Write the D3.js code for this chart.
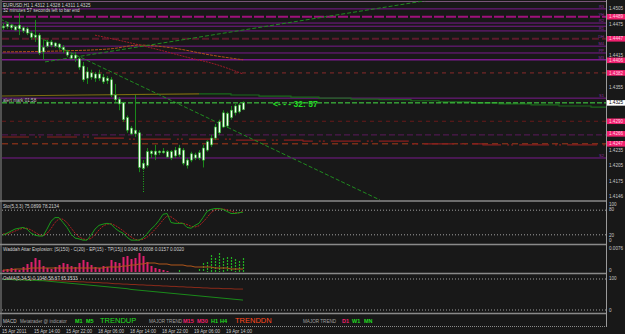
<!DOCTYPE html>
<html><head><meta charset="utf-8">
<script src="https://cdn.jsdelivr.net/npm/d3@7/dist/d3.min.js"></script>
<style>body{margin:0;background:#181818;overflow:hidden}svg{display:block;font-family:"Liberation Sans",Arial,sans-serif}</style>
</head><body><svg id="c" width="625" height="334"></svg>
<script>
// ---------- DATA ----------
const candleOpen=[1.4471,1.4470,1.4473,1.4470,1.4466,1.4468,1.4466,1.4458,1.4450,1.4454,1.4422,1.4433,1.4441,1.4439,1.4437,1.4431,1.4422,1.4416,1.4410,1.4409,1.4395,1.4372,1.4382,1.4372,1.4380,1.4374,1.4367,1.4369,1.4340,1.4332,1.4325,1.4297,1.4277,1.4266,1.4268,1.4200,1.4206,1.4233,1.4226,1.4233,1.4230,1.4232,1.4220,1.4235,1.4226,1.4235,1.4216,1.4216,1.4220,1.4230,1.4216,1.4235,1.4245,1.4258,1.4268,1.4279,1.4305,1.4297,1.4306,1.4321,1.4312];
const candleHigh=[1.4477,1.4479,1.4475,1.4473,1.4496,1.4471,1.4470,1.4462,1.4483,1.4458,1.4445,1.4445,1.4445,1.4441,1.4439,1.4435,1.4426,1.4420,1.4422,1.4412,1.4403,1.4393,1.4388,1.4384,1.4388,1.4380,1.4376,1.4374,1.4361,1.4336,1.4327,1.4301,1.4281,1.4340,1.4273,1.4216,1.4239,1.4235,1.4245,1.4235,1.4239,1.4235,1.4235,1.4241,1.4245,1.4239,1.4220,1.4232,1.4230,1.4235,1.4245,1.4254,1.4264,1.4285,1.4293,1.4311,1.4308,1.4319,1.4323,1.4325,1.4328];
const candleLow=[1.4464,1.4466,1.4464,1.4462,1.4454,1.4458,1.4454,1.4445,1.4441,1.4416,1.4407,1.4430,1.4431,1.4430,1.4426,1.4420,1.4412,1.4407,1.4403,1.4388,1.4365,1.4361,1.4369,1.4365,1.4367,1.4361,1.4361,1.4336,1.4327,1.4311,1.4289,1.4268,1.4264,1.4260,1.4193,1.4197,1.4202,1.4220,1.4216,1.4226,1.4228,1.4220,1.4216,1.4220,1.4222,1.4206,1.4200,1.4212,1.4216,1.4216,1.4202,1.4232,1.4241,1.4254,1.4264,1.4277,1.4277,1.4293,1.4301,1.4305,1.4311];
const candleClose=[1.4468,1.4475,1.4468,1.4464,1.4473,1.4462,1.4458,1.4450,1.4454,1.4420,1.4431,1.4441,1.4435,1.4433,1.4431,1.4426,1.4416,1.4410,1.4416,1.4393,1.4369,1.4384,1.4374,1.4380,1.4372,1.4365,1.4372,1.4340,1.4331,1.4323,1.4293,1.4273,1.4266,1.4273,1.4202,1.4210,1.4232,1.4228,1.4233,1.4230,1.4233,1.4222,1.4232,1.4224,1.4239,1.4210,1.4206,1.4228,1.4226,1.4220,1.4239,1.4251,1.4258,1.4279,1.4289,1.4306,1.4281,1.4311,1.4319,1.4308,1.4325];
const timeLabels=["15 Apr 2011","15 Apr 14:00","15 Apr 22:00","18 Apr 06:00","18 Apr 14:00","18 Apr 22:00","19 Apr 06:00","19 Apr 14:00"];
const timeLabelIndex=[0,8,16,24,32,40,48,56];
const priceTicks=[1.4505,1.4475,1.4445,1.4415,1.4385,1.4355,1.4325,1.4295,1.4265,1.4235,1.4205,1.4175,1.4146];
const pivotNames=["TOP","R3","YH","R2","M5","R1","DH","M4","PP","M3","WP","S1","DL","M2","WL","S2"];
const pivotValues=[1.4519,1.4504,1.4489,1.4477,1.4471,1.4462,1.4447,1.4433,1.4420,1.4407,1.4382,1.4334,1.4290,1.4264,1.4247,1.4220];
const tagValues=[1.4489,1.4447,1.4406,1.4382,1.4290,1.4266,1.4247];
const bidPrice=1.4325;
const trendStartIdx=[-0.75,10.5];
const trendStartPrice=[1.4485,1.4403];
const trendEndIdx=[94.25,106.75];
const trendEndPrice=[1.4140,1.4521];
const maOrangeIdx=[0,15,27,34,42,52,60];
const maOrange=[1.4422,1.4424,1.4428,1.4435,1.4430,1.4416,1.4407];
const maRedIdx=[23,32,39,47,52,60];
const maRed=[1.4454,1.4439,1.4426,1.4410,1.4401,1.4380];
const mtfGreenIdx=[49,57,64,72,79,87,94,102,109,117,124,132,139,147,151];
const mtfGreen=[1.4342,1.4340,1.4338,1.4336,1.4334,1.4332,1.4331,1.4329,1.4327,1.4325,1.4323,1.4321,1.4319,1.4317,1.4317];
const mtfOliveIdx=[-1,20,49];
const mtfOlive=[1.4338,1.4340,1.4342];
const mtfRedIdx=[-1,4,22,31,58,75,102,120,151];
const mtfRed=[1.4260,1.4260,1.4258,1.4256,1.4254,1.4252,1.4247,1.4245,1.4243];
const stochK=[19,24,29,34,36,38,34,24,19,17,17,34,53,62,62,50,38,22,12,10,7,7,19,34,43,46,48,46,36,29,24,14,7,7,7,12,22,34,43,55,70,72,50,48,48,48,38,36,43,48,62,77,82,84,84,82,77,72,72,74,75.1];
const stochD=[22,22,25,29,33,36,36,32,26,20,18,23,35,50,59,58,50,37,24,15,10,8,11,20,32,41,46,47,43,37,30,22,15,9,7,9,14,23,33,44,56,66,64,57,49,48,45,41,39,42,51,62,74,81,83,83,81,78,74,73,78.2];
const waePink=[0.0008,0.0012,0.0016,0.0012,0.0008,0.0020,0.0032,0.0040,0.0056,0.0048,0.0024,0.0016,0.0012,0.0020,0.0028,0.0036,0.0032,0.0024,0.0020,0.0036,0.0048,0.0040,0.0028,0.0020,0.0016,0.0024,0.0020,0.0048,0.0040,0.0036,0.0060,0.0064,0.0052,0.0056,0.0076,0.0064,0.0040,0.0024,0.0016,0.0012,0.0008,0.0004,0,0,0,0,0,0,0,0,0,0,0,0,0,0,0,0,0,0,0];
const waeGreen=[0,0,0,0,0,0,0,0,0,0,0,0,0,0,0,0,0,0,0,0,0,0,0,0,0,0,0,0,0,0,0,0,0,0,0,0,0,0,0,0,0,0,0,0,0.0008,0,0,0,0,0.0012,0.0036,0.0040,0.0068,0.0056,0.0076,0.0056,0.0060,0.0060,0.0052,0.0044,0.0056];
const waeExplosion=[0.0008,0.0008,0.0008,0.0012,0.0012,0.0012,0.0012,0.0016,0.0016,0.0016,0.0016,0.0016,0.0016,0.0016,0.0016,0.0016,0.0016,0.0016,0.0016,0.0016,0.0016,0.0016,0.0016,0.0016,0.0016,0.0016,0.0020,0.0020,0.0020,0.0020,0.0024,0.0024,0.0028,0.0028,0.0032,0.0032,0.0036,0.0036,0.0036,0.0032,0.0032,0.0032,0.0028,0.0028,0.0028,0.0028,0.0024,0.0024,0.0020,0.0020,0.0020,0.0020,0.0020,0.0016,0.0016,0.0016,0.0016,0.0012,0.0012,0.0012,0.0012];
const oscRed=[89,89,89,88,88,88,87,87,87,86,86,86,85,85,85,84,84,83,83,82,82,81,81,80,80,79,79,78,77,77,76,76,75,75,74,74,73,73,72,72,71,71,70,70,69,69,68,68,67,67,66,66,65,65,65,64,64,64,63,63,63];
const oscGreen=[88,88,88,87,87,87,86,86,86,85,85,84,83,82,81,80,79,78,77,76,75,74,73,72,71,70,69,68,67,66,65,64,62,61,60,59,58,57,56,55,54,53,52,51,50,49,48,47,46,45,44,43,42,41,40,39,38,37,36,35,34];

// ---------- LAYOUT ----------
const W=625,H=334,AX=606;
const svg=d3.select("#c");
svg.append("rect").attr("width",W).attr("height",H).attr("fill","#181818");
const x=d3.scaleLinear().domain([0,60]).range([3,243]);
const yM=d3.scaleLinear().domain([1.4140,1.4519]).range([200,1]);
const yS=d3.scaleLinear().domain([0,100]).range([243,202]);
const yW=d3.scaleLinear().domain([0,0.0104]).range([272,246]);
const yO=d3.scaleLinear().domain([0,100]).range([313,275]);
const FS=4.6;

const defs=svg.append("defs");
function clip(id,y0,y1){defs.append("clipPath").attr("id",id).append("rect").attr("x",2).attr("y",y0).attr("width",AX-2).attr("height",y1-y0);}
clip("cm",1,200);clip("cs",202,244);clip("cw",246,273);clip("co",275,313);

const main=svg.append("g").attr("clip-path","url(#cm)");

// pivot lines
const pivStyle={
 TOP:{c:"#d890d8",w:1,d:null}, R3:{c:"#7a1a8c",w:1,d:null}, YH:{c:"#a0107c",w:2,d:"10,2"},
 R2:{c:"#7a1a8c",w:1,d:null}, M5:{c:"#7a1a8c",w:1,d:null}, R1:{c:"#7a1a8c",w:1,d:null},
 DH:{c:"#5c1a2c",w:2,d:"7,3"}, M4:{c:"#7a1a8c",w:1,d:null}, PP:{c:"#7a1a8c",w:1,d:null},
 M3:{c:"#7a1a8c",w:1.5,d:null}, WP:{c:"#8a2a2a",w:1,d:"4,4"}, S1:{c:"#7a1a8c",w:1,d:null},
 DL:{c:"#6a1a1a",w:1,d:"4,4"}, M2:{c:"#5c1a5c",w:1,d:"6,3"}, WL:{c:"#a83a1a",w:1,d:"6,4"}, S2:{c:"#7a1a8c",w:1,d:null}
};
const labelled=["R3","YH","R2","R1","DH","M4","PP","M3","S1","S2"];
pivotNames.forEach((n,i)=>{
  const s=pivStyle[n];
  main.append("line").attr("x1",2).attr("x2",AX).attr("y1",yM(pivotValues[i])).attr("y2",yM(pivotValues[i]))
   .attr("stroke",s.c).attr("stroke-width",s.w).attr("stroke-dasharray",s.d);
  if(labelled.includes(n))
   svg.append("text").attr("x",AX-2).attr("y",yM(pivotValues[i])-0.8).attr("text-anchor","end")
    .attr("font-size",4).attr("fill","#8a2aa0").text(n);
});

// MTF lines
const lineGen=(xs,ys,ysc)=>d3.line().x((d,i)=>x(xs[i])).y(d=>ysc(d));
main.append("path").attr("d",lineGen(mtfOliveIdx,mtfOlive,yM)(mtfOlive)).attr("fill","none").attr("stroke","#7a6a10").attr("stroke-width",1.2);
main.append("path").attr("d",lineGen(mtfGreenIdx,mtfGreen,yM).curve(d3.curveStepAfter)(mtfGreen)).attr("fill","none").attr("stroke","#1a6a1a").attr("stroke-width",1.2);
main.append("path").attr("d",lineGen(mtfRedIdx,mtfRed,yM).curve(d3.curveStepAfter)(mtfRed)).attr("fill","none").attr("stroke","#8a1e1e").attr("stroke-width",1.2).attr("stroke-dasharray","30,6,2,2,2,6");

// MAs
main.append("path").attr("d",lineGen(maOrangeIdx,maOrange,yM).curve(d3.curveMonotoneX)(maOrange)).attr("fill","none").attr("stroke","#b0501a").attr("stroke-width",1).attr("stroke-dasharray","3,1");
main.append("path").attr("d",lineGen(maRedIdx,maRed,yM).curve(d3.curveMonotoneX)(maRed)).attr("fill","none").attr("stroke","#a01a2a").attr("stroke-width",1).attr("stroke-dasharray","2,1");

// trendlines
trendStartIdx.forEach((s,i)=>{
  main.append("line").attr("x1",x(s)).attr("y1",yM(trendStartPrice[i])).attr("x2",x(trendEndIdx[i])).attr("y2",yM(trendEndPrice[i]))
   .attr("stroke","#1f8a1f").attr("stroke-width",1).attr("stroke-dasharray","4,2");
});

// bid line
main.append("line").attr("x1",2).attr("x2",AX).attr("y1",yM(bidPrice)).attr("y2",yM(bidPrice))
  .attr("stroke","#46e046").attr("stroke-width",1).attr("stroke-dasharray","5,2");

// candles
const idx=d3.range(candleOpen.length);
main.selectAll("line.wick").data(idx).join("line").attr("class","wick")
  .attr("x1",i=>x(i)+0.5).attr("x2",i=>x(i)+0.5).attr("y1",i=>yM(candleHigh[i])).attr("y2",i=>yM(candleLow[i]))
  .attr("stroke","#1a961a").attr("stroke-width",0.9);
main.selectAll("rect.body").data(idx).join("rect").attr("class","body")
  .attr("x",i=>x(i)-0.5).attr("width",2)
  .attr("y",i=>yM(Math.max(candleOpen[i],candleClose[i])))
  .attr("height",i=>Math.max(0.8,Math.abs(yM(candleOpen[i])-yM(candleClose[i]))))
  .attr("fill","#f2fff2").attr("stroke","#26b026").attr("stroke-width",0.6);
// dotted low marker at deepest bar
main.append("line").attr("x1",x(35)+0.5).attr("x2",x(35)+0.5).attr("y1",yM(1.4200)).attr("y2",yM(1.4155))
  .attr("stroke","#1fae1f").attr("stroke-dasharray","1,1.5");

// texts main
svg.append("text").attr("x",3).attr("y",6.5).attr("font-size",FS).attr("fill","#d0d0d0").text("EURUSD,H1  1.4312 1.4328 1.4311 1.4325");
svg.append("text").attr("x",3).attr("y",12).attr("font-size",FS).attr("fill","#d0d0d0").text("32 minutes 57 seconds left to bar end");
svg.append("text").attr("x",3).attr("y",101.5).attr("font-size",FS).attr("fill","#c0c0c0").text("alert mark 01:58");
svg.append("text").attr("x",273).attr("y",106.5).attr("font-size",8.5).attr("fill","#22dd22").attr("font-weight","bold").text("<- - - 32: 57");

// right axis
svg.append("line").attr("x1",AX+0.5).attr("x2",AX+0.5).attr("y1",0).attr("y2",327).attr("stroke","#9a9a9a");
const covered=p=>tagValues.concat([bidPrice]).some(t=>Math.abs(yM(t)-yM(p))<4.5);
priceTicks.filter(p=>!covered(p)).forEach(p=>{
  svg.append("text").attr("x",609).attr("y",yM(p)+1.6).attr("font-size",FS).attr("fill","#c8c8c8").text(p.toFixed(4));
});
tagValues.forEach(p=>{
  svg.append("rect").attr("x",607).attr("y",yM(p)-2.8).attr("width",18).attr("height",5.6).attr("fill","#f0206e");
  svg.append("text").attr("x",609).attr("y",yM(p)+1.6).attr("font-size",FS).attr("fill","#ffd0e0").text(p.toFixed(4));
});
svg.append("rect").attr("x",607).attr("y",yM(bidPrice)-2.8).attr("width",18).attr("height",5.6).attr("fill","#ffffff");
svg.append("text").attr("x",609).attr("y",yM(bidPrice)+1.6).attr("font-size",FS).attr("fill","#000").text(bidPrice.toFixed(4));

// separators
[201,244.5,273.5,313.5].forEach(y=>svg.append("line").attr("x1",0).attr("x2",AX).attr("y1",y).attr("y2",y).attr("stroke","#8a8a8a").attr("stroke-width",1.5));
svg.append("line").attr("x1",1).attr("x2",1).attr("y1",0).attr("y2",326).attr("stroke","#8a8a8a");
svg.append("line").attr("x1",0).attr("x2",AX).attr("y1",326.5).attr("y2",326.5).attr("stroke","#8a8a8a").attr("stroke-dasharray","1,1");

// stoch pane
const sg=svg.append("g").attr("clip-path","url(#cs)");
[80,20].forEach(v=>sg.append("line").attr("x1",2).attr("x2",AX).attr("y1",yS(v)).attr("y2",yS(v)).attr("stroke","#a0a0a0").attr("stroke-dasharray","1,2"));
sg.append("path").attr("d",d3.line().x((d,i)=>x(i)).y(d=>yS(d))(stochD)).attr("fill","none").attr("stroke","#b02020").attr("stroke-dasharray","2,1");
sg.append("path").attr("d",d3.line().x((d,i)=>x(i)).y(d=>yS(d))(stochK)).attr("fill","none").attr("stroke","#1a9a1a");
svg.append("text").attr("x",3).attr("y",208).attr("font-size",FS).attr("fill","#d0d0d0").text("Sto(5,3,3) 75.0899 78.2134");
[["100",204.5],["80",209.5],["20",235.5],["0",240.5]].forEach(t=>svg.append("text").attr("x",609).attr("y",t[1]+1.5).attr("font-size",FS).attr("fill","#c8c8c8").text(t[0]));

// WAE pane
const wg=svg.append("g").attr("clip-path","url(#cw)");
wg.selectAll("rect.pk").data(idx).join("rect").attr("class","pk").attr("x",i=>x(i)-0.5).attr("width",2)
  .attr("y",i=>yW(waePink[i])).attr("height",i=>yW(0)-yW(waePink[i])).attr("fill","#dc1f6c");
wg.selectAll("line.gr").data(idx).join("line").attr("class","gr").attr("x1",i=>x(i)+0.5).attr("x2",i=>x(i)+0.5)
  .attr("y1",i=>yW(waeGreen[i])).attr("y2",yW(0)).attr("stroke","#22b022").attr("stroke-width",1.2).attr("stroke-dasharray","2,1");
wg.append("path").attr("d",d3.line().x((d,i)=>x(i)).y(d=>yW(d))(waeExplosion)).attr("fill","none").attr("stroke","#b0561a").attr("stroke-width",1);
svg.append("text").attr("x",3).attr("y",251).attr("font-size",FS).attr("fill","#d0d0d0").text("Waddah Attar Explosion: [S(150) - C(20) - EP(15) - TP(15)] 0.0048 0.0008 0.0157 0.0020");
svg.append("text").attr("x",609).attr("y",250).attr("font-size",FS).attr("fill","#c8c8c8").text("0.0076");
svg.append("text").attr("x",609).attr("y",271.5).attr("font-size",FS).attr("fill","#c8c8c8").text("0");

// osc pane
const og=svg.append("g").attr("clip-path","url(#co)");
[279,310].forEach(y=>og.append("line").attr("x1",2).attr("x2",AX).attr("y1",y).attr("y2",y).attr("stroke","#a0a0a0").attr("stroke-dasharray","1,2"));
og.append("path").attr("d",d3.line().x((d,i)=>x(i)).y(d=>yO(d))(oscRed)).attr("fill","none").attr("stroke","#8a2a1a");
og.append("path").attr("d",d3.line().x((d,i)=>x(i)).y(d=>yO(d))(oscGreen)).attr("fill","none").attr("stroke","#1a8a1a");
svg.append("text").attr("x",3).attr("y",280).attr("font-size",FS).attr("fill","#d0d0d0").text("OsMA(5,34,5) 0.1048 58.87 65.3533");
[["100",278.5],["0",310.5]].forEach(t=>svg.append("text").attr("x",609).attr("y",t[1]+1.5).attr("font-size",FS).attr("fill","#c8c8c8").text(t[0]));

// bottom pane texts
const bt=[["MACD",3,"#c0c0c0",FS,null],["Metatrader @ indicator",20,"#a0a0a0",FS,null],["M1",75,"#22dd22",5.5,"bold"],["M5",86,"#22dd22",5.5,"bold"],
 ["TRENDUP",100,"#22dd22",7.5,null],["MAJOR TREND",149,"#a0a0a0",FS,null],["M15",183,"#f0206e",5.5,"bold"],["M30",197,"#f0206e",5.5,"bold"],
 ["H1",211,"#22dd22",5.5,"bold"],["H4",220,"#22dd22",5.5,"bold"],["TRENDDN",235,"#ff4a20",7.5,null],["MAJOR TREND",303,"#a0a0a0",FS,null],
 ["D1",342,"#f0206e",5.5,"bold"],["W1",352,"#22dd22",5.5,"bold"],["MN",364,"#22dd22",5.5,"bold"]];
bt.forEach(t=>svg.append("text").attr("x",t[1]).attr("y",323).attr("font-size",t[3]).attr("font-weight",t[4]).attr("fill",t[2]).text(t[0]));

// time axis
timeLabels.forEach((t,i)=>{
  svg.append("text").attr("x",x(timeLabelIndex[i])-1).attr("y",332.5).attr("font-size",FS).attr("fill","#c8c8c8").text(t);
});
</script></body></html>
